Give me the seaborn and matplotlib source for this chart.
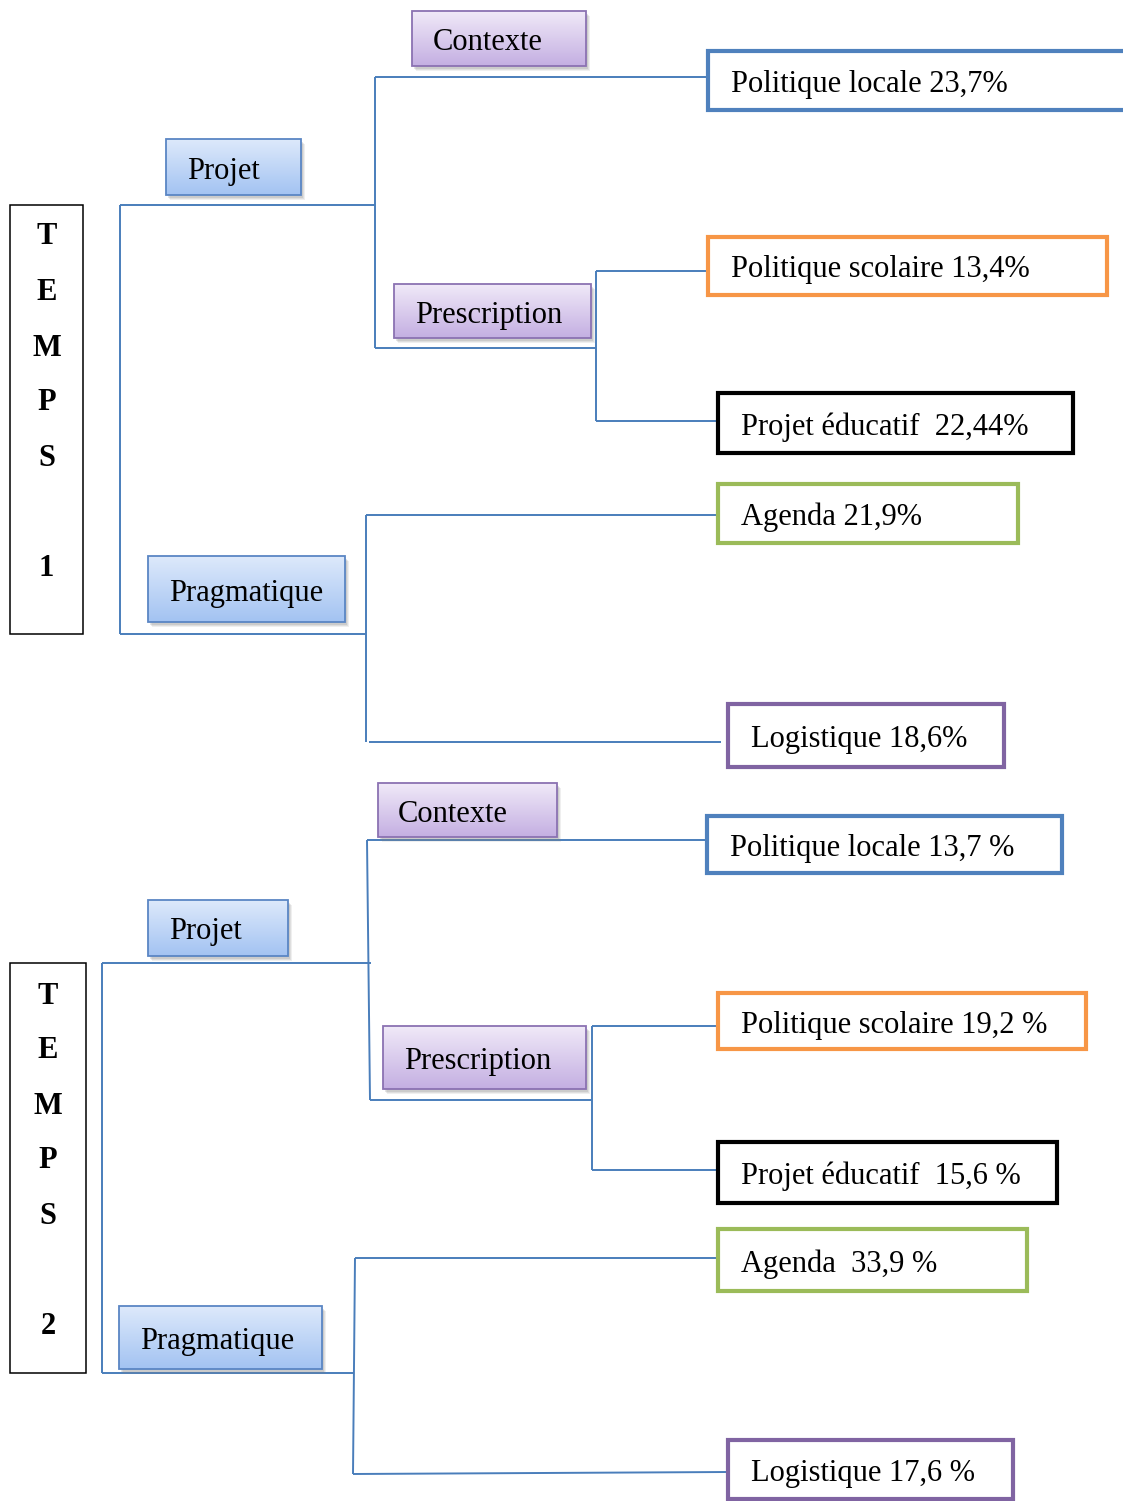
import numpy as np
import matplotlib
matplotlib.use("Agg")
import matplotlib.pyplot as plt
from matplotlib.patches import Rectangle
import matplotlib.colors as mcolors
import seaborn as sns

# ---------------- data ----------------
temps_labels = ["TEMPS 1", "TEMPS 2"]
level1 = ["Projet", "Pragmatique"]
level2 = ["Contexte", "Prescription"]
leaf_names = ["Politique locale", "Politique scolaire", "Projet éducatif", "Agenda", "Logistique"]
leaf_texts_t1 = ["Politique locale 23,7%", "Politique scolaire 13,4%", "Projet éducatif  22,44%",
                 "Agenda 21,9%", "Logistique 18,6%"]
leaf_texts_t2 = ["Politique locale 13,7 %", "Politique scolaire 19,2 %", "Projet éducatif  15,6 %",
                 "Agenda  33,9 %", "Logistique 17,6 %"]
leaf_colors = ["#4f81bd", "#f79646", "#000000", "#9bbb59", "#8064a2"]

sns.set_style("white")
plt.rcParams["font.family"] = ["Liberation Serif", "DejaVu Serif"]
plt.rcParams["text.color"] = "black"

W, H = 1123, 1501
fig = plt.figure(figsize=(W / 100, H / 100), dpi=100)
ax = fig.add_axes([0, 0, 1, 1])
ax.set_axis_off()

LINE = "#4a7ebb"
FS = 22
DY = 4

def line(xs, ys):
    ax.plot(xs, ys, color=LINE, lw=1.4, solid_capstyle="butt", zorder=1)

def grad_box(x0, y0, x1, y1, text, kind, tx):
    if kind == "blue":
        top, bot, edge = "#dde9fb", "#a3c3f2", "#5a86c4"
    else:
        top, bot, edge = "#f0e9f8", "#c4afe2", "#8b72b2"
    # soft shadow
    for k, a in [(5, 0.12), (4, 0.15), (3, 0.2)]:
        ax.add_patch(Rectangle((x0 + k - 1, y0 + k), x1 - x0, y1 - y0, facecolor="#808080",
                               edgecolor="none", alpha=a, zorder=2))
    c0 = np.array(mcolors.to_rgb(top)); c1 = np.array(mcolors.to_rgb(bot))
    t = np.linspace(0, 1, 64)[:, None, None]
    img = c0[None, None, :] * (1 - t) + c1[None, None, :] * t
    ax.imshow(img, extent=(x0, x1, y1, y0), origin="upper", aspect="auto", zorder=3,
              interpolation="bilinear")
    ax.add_patch(Rectangle((x0, y0), x1 - x0, y1 - y0, facecolor="none",
                           edgecolor=edge, lw=1.3, zorder=4))
    ax.text(tx, (y0 + y1) / 2 + DY, text, ha="left", va="center", fontsize=FS,
            color="black", zorder=5)

def leaf_box(x0, y0, x1, y1, text, color):
    ax.add_patch(Rectangle((x0, y0), x1 - x0, y1 - y0, facecolor="white",
                           edgecolor=color, lw=3.0, zorder=4))
    ax.text(x0 + 23, (y0 + y1) / 2 + DY, text, ha="left", va="center", fontsize=FS,
            color="black", zorder=5)

def temps_box(x0, y0, x1, y1, label, letter_ys):
    ax.add_patch(Rectangle((x0, y0), x1 - x0, y1 - y0, facecolor="white",
                           edgecolor="black", lw=1.1, zorder=4))
    word, num = label.split()
    for ch, yy in zip(list(word) + [num], letter_ys):
        ax.text((x0 + x1) / 2, yy + DY - 1, ch, ha="center", va="center", fontsize=FS,
                fontweight="bold", color="black", zorder=5)

# ---------------- TEMPS 1 ----------------
t = leaf_texts_t1
line([120, 120], [205, 634]); line([120, 375], [205, 205]); line([120, 366], [634, 634])
line([375, 375], [77, 348]); line([375, 708], [77, 77]); line([375, 596], [348, 348])
line([596, 596], [271, 421]); line([596, 708], [271, 271]); line([596, 718], [421, 421])
line([366, 366], [515, 742]); line([366, 718], [515, 515]); line([369, 721], [742, 742])

temps_box(10, 205, 83, 634, temps_labels[0], [234, 290, 345, 400, 456, 566])
grad_box(166, 139, 301, 195, level1[0], "blue", tx=187)
grad_box(148, 556, 345, 622, level1[1], "blue", tx=169)
grad_box(412, 11, 586, 66, level2[0], "purple", tx=433)
grad_box(394, 284, 591, 338, level2[1], "purple", tx=415)

leaf_box(708, 51, 1135, 110, t[0], leaf_colors[0])
leaf_box(708, 237, 1107, 295, t[1], leaf_colors[1])
leaf_box(718, 393, 1073, 453, t[2], leaf_colors[2])
leaf_box(718, 484, 1018, 543, t[3], leaf_colors[3])
leaf_box(728, 704, 1004, 767, t[4], leaf_colors[4])

# ---------------- TEMPS 2 ----------------
t = leaf_texts_t2
line([102, 102], [963, 1373]); line([102, 371], [963, 963]); line([102, 353], [1373, 1373])
line([367, 370], [840, 1100]); line([367, 707], [840, 840]); line([370, 592], [1100, 1100])
line([592, 592], [1026, 1170]); line([592, 718], [1026, 1026]); line([592, 718], [1170, 1170])
line([355, 353], [1258, 1474]); line([355, 718], [1258, 1258]); line([353, 728], [1474, 1472])

temps_box(10, 963, 86, 1373, temps_labels[1], [993, 1048, 1103, 1158, 1214, 1324])
grad_box(148, 900, 288, 956, level1[0], "blue", tx=169)
grad_box(119, 1306, 322, 1369, level1[1], "blue", tx=140)
grad_box(378, 783, 557, 837, level2[0], "purple", tx=398)
grad_box(383, 1026, 586, 1089, level2[1], "purple", tx=404)

leaf_box(707, 816, 1062, 873, t[0], leaf_colors[0])
leaf_box(718, 993, 1086, 1049, t[1], leaf_colors[1])
leaf_box(718, 1142, 1057, 1203, t[2], leaf_colors[2])
leaf_box(718, 1229, 1027, 1291, t[3], leaf_colors[3])
leaf_box(728, 1440, 1013, 1499, t[4], leaf_colors[4])

ax.set_xlim(0, W)
ax.set_ylim(H, 0)
fig.savefig("out.png", dpi=100, facecolor="white")
